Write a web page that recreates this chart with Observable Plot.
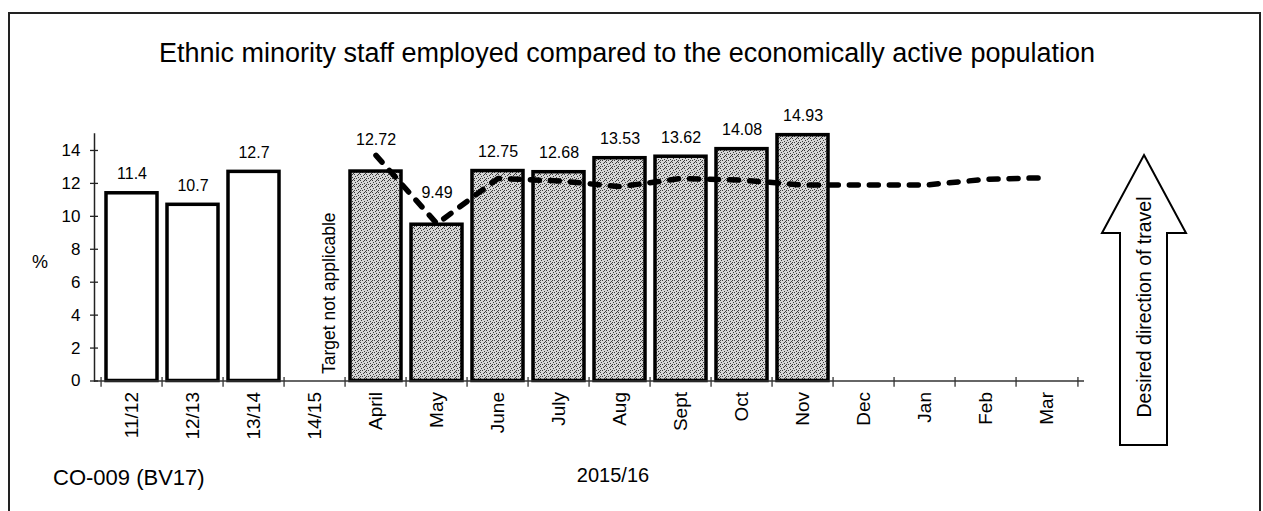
<!DOCTYPE html>
<html><head><meta charset="utf-8">
<script src="https://cdn.jsdelivr.net/npm/d3@7"></script>
<script src="https://cdn.jsdelivr.net/npm/@observablehq/plot@0.6"></script>
<style>body{margin:0;background:#fff} svg{display:block}</style>
</head><body><div id="chart"></div>
<script>
// ---- data ----
const categories = ["11/12","12/13","13/14","14/15","April","May","June","July","Aug","Sept","Oct","Nov","Dec","Jan","Feb","Mar"];
const annualPeriods = ["11/12","12/13","13/14"];
const annualValues = [11.4, 10.7, 12.7];
const monthPeriods = ["April","May","June","July","Aug","Sept","Oct","Nov"];
const monthValues = [12.72, 9.49, 12.75, 12.68, 13.53, 13.62, 14.08, 14.93];
const targetPeriods = ["April","May","June","July","Aug","Sept","Oct","Nov","Dec","Jan","Feb","Mar"];
const targetValues = [13.7, 9.55, 12.3, 12.15, 11.8, 12.3, 12.2, 11.9, 11.9, 11.9, 12.25, 12.35];
const yTicks = [0, 2, 4, 6, 8, 10, 12, 14];
const titleText = "Ethnic minority staff employed compared to the economically active population";
const codeText = "CO-009 (BV17)";
const yearText = "2015/16";
const noTargetText = "Target not applicable";
const arrowText = "Desired direction of travel";

// ---- build tables ----
const annual = annualPeriods.map((p, i) => ({period: p, value: annualValues[i]}));
const months = monthPeriods.map((p, i) => ({period: p, value: monthValues[i]}));
const target = targetPeriods.map((p, i) => ({period: p, value: targetValues[i]}));
const allBars = annual.concat(months);

const W = 1263, H = 511;
const mL = 94, mR = 179, mT = 133.5, mB = 130.5;
const step = (W - mL - mR) / categories.length;
const raised = new Set(["April", "May"]);
const FONT = "'Liberation Sans', Arial, sans-serif";

const chart = Plot.plot({
  width: W, height: H,
  marginLeft: mL, marginRight: mR, marginTop: mT, marginBottom: mB,
  style: {fontFamily: FONT, background: "#fff", color: "#000", overflow: "visible"},
  x: {type: "band", domain: categories, paddingInner: 0.17, paddingOuter: 0.085, label: null},
  y: {domain: [0, 15], label: null},
  marks: [
    Plot.barY(annual, {x: "period", y: "value", fill: "#fff", stroke: "#000", strokeWidth: 3.5}),
    Plot.barY(months, {x: "period", y: "value", fill: "url(#stipple)", stroke: "#000", strokeWidth: 3.5}),
    Plot.ruleY([0], {stroke: "#333", strokeWidth: 1.5}),
    Plot.frame({anchor: "left", stroke: "#222", strokeWidth: 1.5}),
    Plot.ruleX(categories, {x: d => d, dx: -step / 2, y1: 0.22, y2: -0.38, stroke: "#333", strokeWidth: 1.3}),
    Plot.ruleX(categories.slice(-1), {x: d => d, dx: step / 2, y1: 0.22, y2: -0.38, stroke: "#333", strokeWidth: 1.3}),
    Plot.axisY(yTicks, {tickSize: 8, dx: 4, tickPadding: 10, fontSize: 17, stroke: "#222", strokeWidth: 1.3, label: null}),
    Plot.axisX({tickSize: 0, tickRotate: -90, tickPadding: 11, fontSize: 19, label: null}),
    Plot.line(target, {x: "period", y: "value", stroke: "#000", strokeWidth: 5.5, strokeDasharray: "9,11", strokeLinecap: "round"}),
    Plot.text(allBars.filter(d => !raised.has(d.period)), {x: "period", y: "value", text: d => String(d.value), dy: -19, fontSize: 16}),
    Plot.text(allBars.filter(d => raised.has(d.period)), {x: "period", y: "value", text: d => String(d.value), dy: -32, fontSize: 16}),
    Plot.text([noTargetText], {x: () => "14/15", y: () => 0, text: d => d, rotate: -90, textAnchor: "start", dx: 14, dy: -7, fontSize: 17.5})
  ]
});

document.getElementById("chart").appendChild(chart);

// ---- decorations ----
const svg = d3.select(chart);
const defs = svg.insert("defs", ":first-child");
const pat = defs.append("pattern").attr("id", "stipple").attr("width", 6).attr("height", 6).attr("patternUnits", "userSpaceOnUse");
pat.append("rect").attr("width", 6).attr("height", 6).attr("fill", "#d6d6d6");
[[0,0],[3,1],[1,2],[4,3],[2,4],[5,5],[0,4],[4,0]].forEach(([px, py]) =>
  pat.append("rect").attr("x", px).attr("y", py).attr("width", 1).attr("height", 1).attr("fill", "#3a3a3a"));

const deco = svg.append("g").attr("font-family", FONT).attr("fill", "#000");
deco.append("rect").attr("x", 9).attr("y", 13).attr("width", 1251).attr("height", 520)
  .attr("fill", "none").attr("stroke", "#222").attr("stroke-width", 2);
deco.append("text").attr("x", 627).attr("y", 62).attr("text-anchor", "middle").attr("font-size", 27).text(titleText);
deco.append("text").attr("x", 53).attr("y", 485).attr("text-anchor", "start").attr("font-size", 22).text(codeText);
deco.append("text").attr("x", 613).attr("y", 482).attr("text-anchor", "middle").attr("font-size", 20).text(yearText);
deco.append("text").attr("x", 40).attr("y", 268).attr("text-anchor", "middle").attr("font-size", 18).text("%");
deco.append("polygon")
  .attr("points", "1144,155 1186,233 1167,233 1167,445 1120,445 1120,233 1102,233")
  .attr("fill", "#fff").attr("stroke", "#000").attr("stroke-width", 2);
deco.append("text").attr("transform", "translate(1144,307) rotate(-90)")
  .attr("text-anchor", "middle").attr("dominant-baseline", "central").attr("font-size", 19.5).text(arrowText);
</script>
</body></html>
